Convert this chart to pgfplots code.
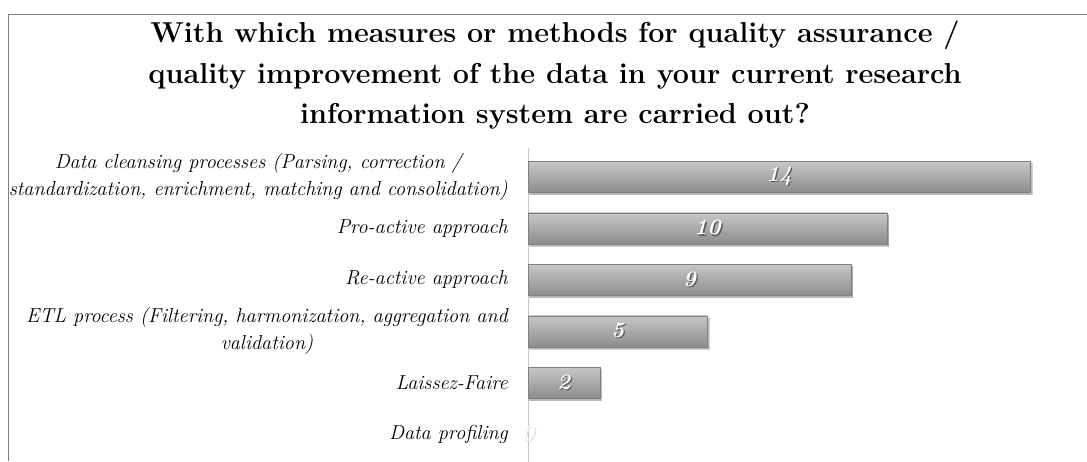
\documentclass[border=0pt]{standalone}
\usepackage{fontspec}
\usepackage{pgfplots}
\pgfplotsset{compat=1.18}
\usetikzlibrary{shadows}
\begin{document}
\begin{tikzpicture}[x=1pt,y=1pt]
\useasboundingbox (0,0) rectangle (1087,-461);
\draw[black!50, line width=0.8pt] (8,-461) -- (8,-14) -- (1087,-14);
\tikzset{ttl/.style={font=\fontsize{28.8}{30}\selectfont\bfseries, anchor=base, inner sep=0pt}}
\node[ttl] at (555,-42) {With which measures or methods for quality assurance /};
\node[ttl] at (555,-83) {quality improvement of the data in your current research};
\node[ttl] at (555,-123) {information system are carried out?};
\begin{axis}[
  at={(528pt,-148pt)}, anchor=north west,
  scale only axis, width=538.5pt, height=317pt,
  xmin=0, xmax=15, ymin=-0.564, ymax=5.603,
  y dir=reverse,
  xbar, bar width=31pt, bar shift=0pt,
  axis x line=none, axis y line*=left,
  y axis line style={black!22, line width=0.8pt},
  ytick={0,1,2,3,4,5}, major tick length=0pt,
  yticklabels={{Data cleansing processes (Parsing, correction /\\standardization, enrichment, matching and consolidation)},
               {Pro-active approach}, {Re-active approach},
               {ETL process (Filtering, harmonization, aggregation and\\validation)},
               {Laissez-Faire}, {Data profiling}},
  yticklabel style={anchor=east, inner sep=0pt, xshift=-20pt, align=center,
     font=\fontsize{20.2}{27}\selectfont\itshape\addfontfeatures{LetterSpace=5}, text=black},
  clip=false,
  /pgf/number format/assume math mode=true,
  nodes near coords={\rlap{\raisebox{-1.3pt}{\hspace{1.3pt}\textcolor{black!65}{\pgfmathprintnumber{\pgfplotspointmeta}}}}\pgfmathprintnumber{\pgfplotspointmeta}},
  visualization depends on={x \as \rawx},
  every node near coord/.append style={anchor=center, text=white,
     font=\fontsize{22}{22}\selectfont\bfseries\itshape,
     shift={(axis direction cs:-\rawx/2,0)}},
  mybar/.style={draw=black!50, line width=0.4pt,
     top color=black!22, middle color=black!32, bottom color=black!45,
     drop shadow={shadow xshift=1.5pt, shadow yshift=-2pt, opacity=0.35, fill=black!60}},
]
\addplot[mybar] coordinates {(14,0)};
\addplot[mybar] coordinates {(10,1)};
\addplot[mybar] coordinates {(9,2)};
\addplot[mybar] coordinates {(5,3)};
\addplot[mybar] coordinates {(2,4)};
\addplot[draw=none, fill=none,
  nodes near coords={\rlap{\raisebox{-0.8pt}{\hspace{0.8pt}\textcolor{black!12}{\pgfmathprintnumber{\pgfplotspointmeta}}}}\pgfmathprintnumber{\pgfplotspointmeta}}]
  coordinates {(0,5)};
\end{axis}
\end{tikzpicture}
\end{document}
